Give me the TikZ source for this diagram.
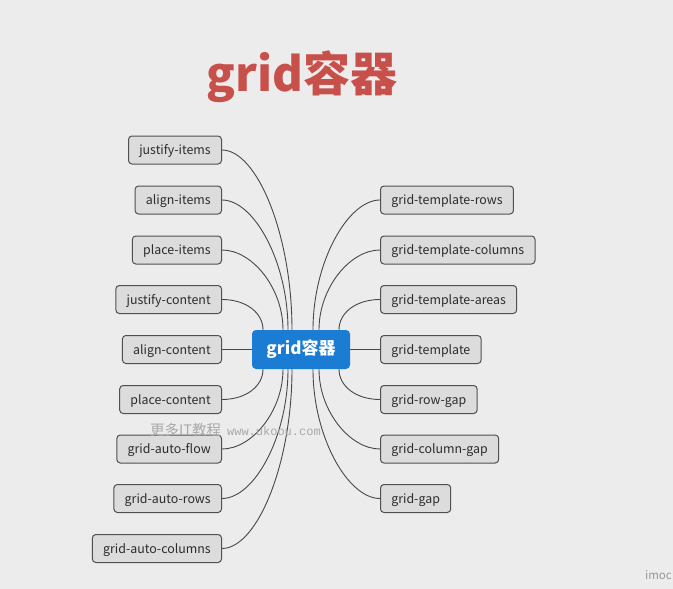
\documentclass[tikz,border=0pt]{standalone}
\usepackage{fontspec}
\setmainfont{Noto Sans CJK SC}
\newfontfamily\wmmono{Liberation Mono}
\usetikzlibrary{calc}
\definecolor{bg}{HTML}{ECECEC}
\definecolor{boxfill}{HTML}{DCDCDC}
\definecolor{boxline}{HTML}{505050}
\definecolor{txt}{HTML}{2C2C2C}
\definecolor{mainblue}{HTML}{1A7DD3}
\definecolor{titlered}{HTML}{C8504B}
\definecolor{wmgray}{HTML}{A9A9A9}
\pgfdeclarelayer{canvas}
\pgfdeclarelayer{edges}
\pgfsetlayers{canvas,edges,main}
\tikzset{
  leaf/.style={draw=boxline, fill=boxfill, line width=1pt, rounded corners=3.5pt,
    minimum height=28pt, inner xsep=10.8pt, inner ysep=0pt, text=txt,
    text height=10.5pt, text depth=1.5pt,
    font=\fontsize{12.4}{14}\selectfont},
  hub/.style={fill=mainblue, rounded corners=4pt, minimum width=98pt, minimum height=39pt,
    text=white, inner sep=0pt, text height=12.8pt, text depth=2.8pt,
    font=\fontsize{17}{19}\selectfont\bfseries},
  link/.style={draw=boxline!90!black, line width=0.9pt},
  titletext/.style={text=titlered, inner sep=0pt, font=\fontsize{47}{50}\selectfont\bfseries},
  wm/.style={text=wmgray, inner sep=0pt},
}
\begin{document}
\begin{tikzpicture}[x=1pt,y=-1pt]
\begin{pgfonlayer}{canvas}
\fill[bg] (0,0) rectangle (673,589);
\end{pgfonlayer}
\useasboundingbox (0,0) rectangle (673,589);

\node[titletext] (title) at (302,77) {grid容器};

\node[hub] (ctr) at (301,349.5) {grid容器};

% left nodes
\node[leaf, anchor=east] (ji) at (222,150) {justify-items};
\node[leaf, anchor=east] (ai) at (222,200) {align-items};
\node[leaf, anchor=east] (pi) at (222,250) {place-items};
\node[leaf, anchor=east] (jc) at (222,299.5) {justify-content};
\node[leaf, anchor=east] (ac) at (222,349.5) {align-content};
\node[leaf, anchor=east] (pc) at (222,399.5) {place-content};
\node[leaf, anchor=east] (gaf) at (222,449) {grid-auto-flow};
\node[leaf, anchor=east] (gar) at (222,498.5) {grid-auto-rows};
\node[leaf, anchor=east] (gac) at (222,548.5) {grid-auto-columns};

% right nodes
\node[leaf, anchor=west] (gtr) at (380,200) {grid-template-rows};
\node[leaf, anchor=west] (gtc) at (380,250) {grid-template-columns};
\node[leaf, anchor=west] (gta) at (380,299.5) {grid-template-areas};
\node[leaf, anchor=west] (gt) at (380,349.5) {grid-template};
\node[leaf, anchor=west] (grg) at (380,399.5) {grid-row-gap};
\node[leaf, anchor=west] (gcg) at (380,449) {grid-column-gap};
\node[leaf, anchor=west] (gg) at (380,498.5) {grid-gap};

\begin{pgfonlayer}{edges}
% left upper
\draw[link] (ji.east) .. controls +(35,0) and +(0,-95) .. ($(ctr.north)+(-9,0)$);
\draw[link] (ai.east) .. controls +(32,0) and +(0,-68) .. ($(ctr.north)+(-13,0)$);
\draw[link] (pi.east) .. controls +(30,0) and +(0,-42) .. ($(ctr.north)+(-18,0)$);
\draw[link] (jc.east) .. controls +(24,0) and +(0,-17) .. ($(ctr.north)+(-38,0)$);
\draw[link] (ac.east) -- (ctr.west);
% left lower
\draw[link] (pc.east) .. controls +(24,0) and +(0,17) .. ($(ctr.south)+(-38,0)$);
\draw[link] (gaf.east) .. controls +(30,0) and +(0,42) .. ($(ctr.south)+(-18,0)$);
\draw[link] (gar.east) .. controls +(32,0) and +(0,68) .. ($(ctr.south)+(-13,0)$);
\draw[link] (gac.east) .. controls +(35,0) and +(0,95) .. ($(ctr.south)+(-9,0)$);
% right
\draw[link] (gtr.west) .. controls +(-32,0) and +(0,-68) .. ($(ctr.north)+(12,0)$);
\draw[link] (gtc.west) .. controls +(-30,0) and +(0,-42) .. ($(ctr.north)+(18,0)$);
\draw[link] (gta.west) .. controls +(-24,0) and +(0,-17) .. ($(ctr.north)+(38,0)$);
\draw[link] (gt.west) -- (ctr.east);
\draw[link] (grg.west) .. controls +(-24,0) and +(0,17) .. ($(ctr.south)+(38,0)$);
\draw[link] (gcg.west) .. controls +(-30,0) and +(0,42) .. ($(ctr.south)+(18,0)$);
\draw[link] (gg.west) .. controls +(-32,0) and +(0,68) .. ($(ctr.south)+(12,0)$);
\end{pgfonlayer}

\node[wm, anchor=west] (wmark) at (150,430) {\fontsize{14.5}{16}\selectfont 更多IT教程\hspace{6pt}\wmmono\fontsize{12}{14}\selectfont www.ukoou.com};
\node[wm, anchor=east, text=wmgray!90!black] (imoc) at (672,575.5) {\fontsize{11.5}{14}\selectfont imoc};
\end{tikzpicture}
\end{document}
